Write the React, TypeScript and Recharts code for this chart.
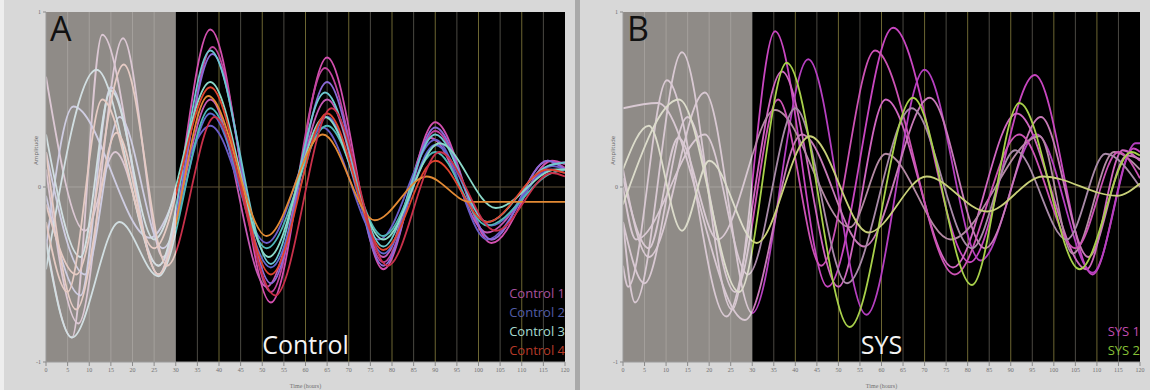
import React from "react";
import { LineChart, Line, XAxis, YAxis, ReferenceArea, ReferenceLine } from "recharts";

type P = { x: number; y: number };
const pts = (a: number[][]): P[] => a.map(([x, y]) => ({ x, y }));

const X_TICKS = [0, 5, 10, 15, 20, 25, 30, 35, 40, 45, 50, 55, 60, 65, 70, 75, 80, 85, 90, 95, 100, 105, 110, 115, 120];
const Y_TICKS = [-1, 0, 1];
const X_LABEL = "Time (hours)";
const Y_LABEL = "Amplitude";
const BASELINE_END = 30;

// panel A, extrema of each trace as [time, amplitude]
const control1a = [[0, -0.3], [6, -0.86], [13, 0.87], [26, -0.5], [38, 0.9], [52, -0.66], [65, 0.74], [78, -0.47], [90, 0.37], [103, -0.32], [117, 0.15], [120, 0.13]];
const control1b = [[0, 0.1], [7.5, -0.78], [17.8, 0.85], [27, -0.4], [38.5, 0.8], [52, -0.6], [64.5, 0.68], [78, -0.43], [90, 0.32], [103, -0.3], [116, 0.15], [120, 0.11]];
const control1c = [[0, 0.63], [9, -0.25], [16, 0.2], [26, -0.45], [38, 0.5], [51, -0.57], [65, 0.5], [78, -0.4], [89, 0.28], [102, -0.26], [117, 0.13], [120, 0.14]];
const control2a = [[0, -0.35], [6.3, 0.46], [24, -0.29], [38, 0.35], [51, -0.32], [64, 0.34], [77, -0.3], [90, 0.27], [102, -0.3], [117, 0.12], [120, 0.1]];
const control2b = [[0, -0.05], [8, -0.62], [15, 0.57], [26, -0.5], [38.5, 0.76], [52, -0.55], [65, 0.6], [78, -0.45], [90, 0.34], [103, -0.3], [116, 0.15], [120, 0.1]];
const control2c = [[0, 0.2], [9, -0.5], [17, 0.4], [27, -0.35], [38, 0.42], [52, -0.46], [65, 0.4], [78, -0.38], [90, 0.24], [103, -0.22], [117, 0.1], [120, 0.08]];
const control3a = [[0, -0.47], [11.7, 0.67], [26, -0.45], [38, 0.78], [52, -0.44], [64.5, 0.54], [78, -0.34], [90, 0.3], [102, -0.2], [116, 0.12], [120, 0.14]];
const control3b = [[0, -0.32], [6, -0.86], [17, -0.2], [26, -0.51], [38, 0.45], [51, -0.35], [65, 0.35], [78, -0.28], [90, 0.2], [102, -0.22], [117, 0.08], [120, 0.1]];
const control3c = [[0, 0.3], [8, -0.4], [15, 0.55], [25, -0.3], [38, 0.6], [51.5, -0.4], [64.5, 0.4], [78, -0.3], [91, 0.25], [104, -0.12], [118, 0.1], [120, 0.1]];
const control4a = [[0, -0.2], [5, -0.6], [13, 0.5], [25, -0.35], [38, 0.57], [52, -0.5], [65, 0.42], [78, -0.36], [90, 0.15], [102, -0.2], [116, 0.1], [120, 0.08]];
const control4b = [[0, 0.2], [7, -0.7], [16.3, 0.31], [26, -0.5], [37.5, 0.52], [51, -0.28], [64, 0.3], [76, -0.19], [88, 0.06], [98, -0.085], [120, -0.085]];
const control4c = [[0, -0.1], [7, -0.5], [18, 0.7], [28, -0.45], [39, 0.4], [53, -0.62], [66, 0.45], [79, -0.45], [91, 0.2], [104, -0.25], [117, 0.08], [120, 0.06]];

// panel B
const sys1a = [[0, -0.2], [2.8, -0.66], [13.7, 0.77], [25.3, -0.7], [35.3, 0.89], [47.5, -0.57], [62.7, 0.91], [80.5, -0.43], [95.6, 0.64], [109, -0.5], [118.5, 0.22], [120, 0.2]];
const sys1b = [[0, -0.45], [1.2, -0.57], [10.2, 0.61], [24, -0.74], [36.9, 0.66], [50, -0.57], [61, 0.5], [76.6, -0.46], [91.4, 0.42], [107.6, -0.47], [116, 0.21], [120, 0.15]];
const sys1c = [[0, 0.1], [6, -0.4], [19, 0.54], [30, -0.72], [43, 0.73], [56.5, -0.73], [70, 0.67], [83, -0.42], [96, 0.3], [109, -0.49], [119, 0.25], [120, 0.25]];
const sys1d = [[0, 0.05], [6, -0.35], [12.8, 0.28], [22, -0.3], [35.3, 0.44], [52.6, -0.23], [61, 0.19], [76, -0.3], [96.7, 0.29], [104.4, -0.38], [114, 0.2], [120, 0.1]];
const sys1e = [[0, 0.45], [8.1, 0.48], [28.3, -0.76], [41.5, 0.3], [56, -0.34], [71.2, 0.51], [84, -0.35], [97, 0.4], [108, -0.4], [117, 0.18], [120, 0.16]];
const sys1f = [[0, -0.2], [5, -0.55], [15, 0.4], [26, -0.6], [36, 0.5], [46, -0.45], [58.5, 0.78], [77, -0.5], [92, 0.3], [105, -0.35], [115, 0.2], [120, 0.05]];
const sys1g = [[0, 0], [3, -0.3], [19, 0.3], [29, -0.5], [40, 0.45], [52, -0.55], [67, 0.45], [81, -0.35], [91, 0.21], [103, -0.3], [112, 0.19], [120, 0]];
const sys2a = [[0, -0.1], [13, 0.5], [27, -0.6], [38, 0.71], [52.6, -0.8], [67.3, 0.51], [81, -0.56], [92, 0.48], [106, -0.47], [118, 0.2], [120, 0.18]];
const sys2b = [[0, 0.1], [6, 0.35], [13.7, -0.25], [20, 0.15], [31, -0.32], [43.4, 0.29], [57, -0.26], [70.5, 0.06], [84.5, -0.14], [97.5, 0.06], [114.6, -0.05], [120, 0.02]];

type Group = { name: string; curves: number[][][]; vivid: string[]; pale: string; label: string };

const CONTROL_GROUPS: Group[] = [
  { name: "Control 1", curves: [control1a, control1b, control1c], vivid: ["#d24fae", "#c2449e", "#c659b4"], pale: "#dcc8d4", label: "#a8509e" },
  { name: "Control 2", curves: [control2a, control2b, control2c], vivid: ["#6a5cc8", "#8a6ad8", "#5f6ad0"], pale: "#cfcde2", label: "#505ca8" },
  { name: "Control 3", curves: [control3a, control3b, control3c], vivid: ["#6cc8d0", "#4fb8b8", "#8ad8c8"], pale: "#d2dfe2", label: "#a6dcd2" },
  { name: "Control 4", curves: [control4a, control4b, control4c], vivid: ["#e0442e", "#e38a34", "#c8304a"], pale: "#e6cbc4", label: "#b63a28" },
];

const SYS_GROUPS: Group[] = [
  { name: "SYS 1", curves: [sys1a, sys1b, sys1c, sys1d, sys1e, sys1f, sys1g], vivid: ["#c846c0", "#d066c0", "#b63fc0", "#b48aa4", "#c87ab8", "#cc52b4", "#a98aa8"], pale: "#d9c9d3", label: "#c24cb0" },
  { name: "SYS 2", curves: [sys2a, sys2b], vivid: ["#a8d04a", "#c8d078"], pale: "#dcdccb", label: "#86c036" },
];

function gridStroke(x: number) {
  if (x < BASELINE_END) return "#a4a09c";
  return x % 10 === 0 ? "#6c6632" : "#4a4842";
}

function Panel({ left, width, id, letter, title, groups }: { left: number; width: number; id: string; letter: string; title: string; groups: Group[] }) {
  const traces = groups.flatMap((g) => g.curves.map((c, i) => ({ data: pts(c), vivid: g.vivid[i % g.vivid.length], pale: g.pale })));
  const cut = BASELINE_END / 120;
  return (
    <div style={{ position: "absolute", left, top: 0, width, height: 390 }}>
      <LineChart width={width} height={390} margin={{ top: 12, right: 10, bottom: 0, left: 0 }}>
        <defs>
          {traces.map((t, i) => (
            <linearGradient key={i} id={`${id}-g${i}`} x1="0" y1="0" x2="1" y2="0">
              <stop offset={0} stopColor={t.pale} />
              <stop offset={cut} stopColor={t.pale} />
              <stop offset={cut} stopColor={t.vivid} />
              <stop offset={1} stopColor={t.vivid} />
            </linearGradient>
          ))}
        </defs>
        <XAxis
          type="number"
          dataKey="x"
          domain={[0, 120]}
          ticks={X_TICKS}
          interval={0}
          height={28}
          allowDataOverflow
          tick={{ fontSize: 6, fill: "#707070" }}
          tickSize={4}
          tickLine={{ stroke: "#8a8a8a" }}
          axisLine={{ stroke: "#9a9a9a" }}
          label={{ value: X_LABEL, position: "insideBottom", offset: 2, fontSize: 6, fill: "#707070" }}
        />
        <YAxis
          type="number"
          domain={[-1, 1]}
          ticks={Y_TICKS}
          width={46}
          allowDataOverflow
          tick={{ fontSize: 6, fill: "#707070" }}
          tickSize={3}
          tickLine={{ stroke: "#8a8a8a" }}
          axisLine={{ stroke: "#9a9a9a" }}
        />
        <ReferenceArea x1={0} x2={BASELINE_END} y1={-1} y2={1} fill="#8f8b87" fillOpacity={1} stroke="none" />
        <ReferenceArea x1={BASELINE_END} x2={120} y1={-1} y2={1} fill="#000000" fillOpacity={1} stroke="none" />
        {X_TICKS.filter((x) => x > 0 && x < 120 && x !== BASELINE_END).map((x) => (
          <ReferenceLine key={x} x={x} stroke={gridStroke(x)} strokeWidth={1} />
        ))}
        <ReferenceLine segment={[{ x: 0, y: 0 }, { x: BASELINE_END, y: 0 }]} stroke="#a6a29e" />
        <ReferenceLine segment={[{ x: BASELINE_END, y: 0 }, { x: 120, y: 0 }]} stroke="#5c4e36" />
        {traces.map((t, i) => (
          <Line
            key={i}
            data={t.data}
            dataKey="y"
            type="monotone"
            stroke={`url(#${id}-g${i})`}
            strokeWidth={1.8}
            dot={false}
            activeDot={false}
            isAnimationActive={false}
          />
        ))}
      </LineChart>
      <div style={{ position: "absolute", left: 32, top: 165, transform: "rotate(-90deg)", transformOrigin: "left top", fontSize: 6, color: "#707070", fontFamily: "Noto Sans, sans-serif", whiteSpace: "nowrap" }}>
        {Y_LABEL}
      </div>
      <div style={{ position: "absolute", left: 50, top: 8, fontSize: 34, lineHeight: "40px", color: "#111", fontFamily: "Open Sans, sans-serif" }}>{letter}</div>
      <div style={{ position: "absolute", left: 46, width: width - 56, top: 328, textAlign: "center", fontSize: 25, lineHeight: "32px", color: "#f4f4f4", fontFamily: "Open Sans, sans-serif" }}>{title}</div>
      <div style={{ position: "absolute", right: 10, bottom: 30, textAlign: "right", fontFamily: "Open Sans, sans-serif", fontSize: 13, lineHeight: "19px" }}>
        {groups.map((g) => (
          <div key={g.name} style={{ color: g.label }}>{g.name}</div>
        ))}
      </div>
    </div>
  );
}

export default function App() {
  return (
    <div style={{ position: "absolute", left: 0, top: 0, width: 1153, height: 390, background: "#ffffff", overflow: "hidden" }}>
      <div style={{ position: "absolute", left: 0, top: 0, width: 575, height: 390, background: "#d8d8d8", borderLeft: "4px solid #eeeeee", boxSizing: "border-box" }} />
      <div style={{ position: "absolute", left: 575, top: 0, width: 5, height: 390, background: "#a9a9a9" }} />
      <div style={{ position: "absolute", left: 580, top: 0, width: 570, height: 390, background: "#d8d8d8" }} />
      <Panel left={0} width={575} id="a" letter="A" title="Control" groups={CONTROL_GROUPS} />
      <Panel left={577} width={573} id="b" letter="B" title="SYS" groups={SYS_GROUPS} />
    </div>
  );
}
